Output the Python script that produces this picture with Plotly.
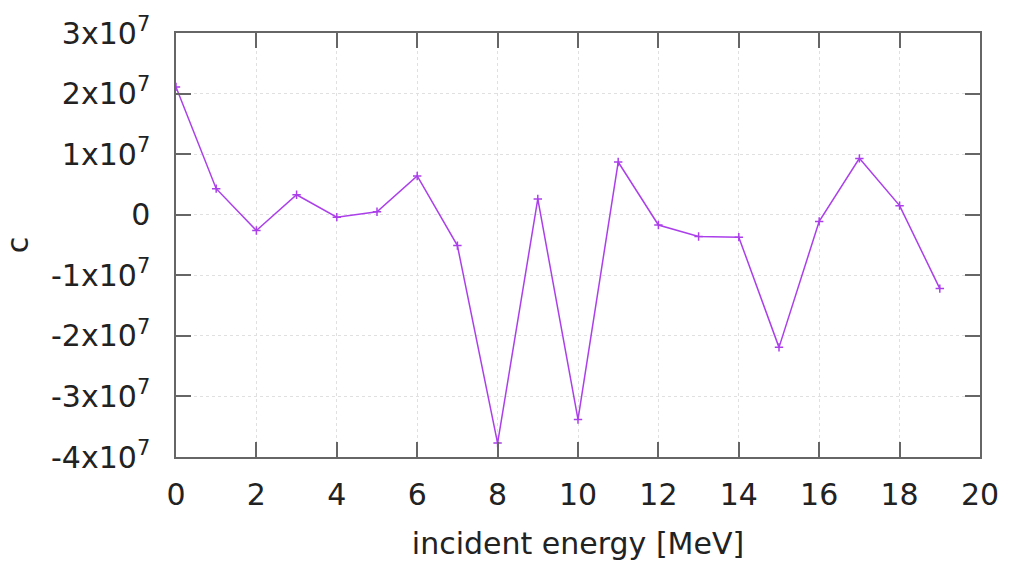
import plotly.graph_objects as go

energy = list(range(20))
c_values = [2.11e7, 0.43e7, -0.26e7, 0.33e7, -0.04e7, 0.05e7, 0.64e7, -0.51e7, -3.77e7, 0.26e7,
            -3.38e7, 0.87e7, -0.17e7, -0.36e7, -0.37e7, -2.19e7, -0.11e7, 0.93e7, 0.15e7, -1.22e7]

x_ticks = [0, 2, 4, 6, 8, 10, 12, 14, 16, 18, 20]
y_ticks = [3e7, 2e7, 1e7, 0, -1e7, -2e7, -3e7, -4e7]
y_ticktext = ["3x10<sup>7</sup>", "2x10<sup>7</sup>", "1x10<sup>7</sup>", "0",
              "-1x10<sup>7</sup>", "-2x10<sup>7</sup>", "-3x10<sup>7</sup>", "-4x10<sup>7</sup>"]

line_color = "#ab40ea"

fig = go.Figure()
fig.add_trace(go.Scatter(
    x=energy, y=c_values, mode="lines+markers",
    line=dict(color=line_color, width=1.5),
    marker=dict(symbol="cross-thin", size=6, line=dict(color=line_color, width=1.5)),
    showlegend=False,
))

font = dict(family="DejaVu Sans", size=30, color="#222222")
axis_common = dict(
    showline=True, linecolor="#666666", linewidth=1.5, mirror="allticks",
    ticks="inside", ticklen=15, tickwidth=1.5, tickcolor="#666666",
    showgrid=True, gridcolor="#e0e0e0", griddash="dot", gridwidth=1,
    zeroline=False, tickfont=font,
)

fig.update_layout(
    width=1011, height=572,
    margin=dict(l=175, r=26, t=25, b=115),
    paper_bgcolor="white", plot_bgcolor="white",
    font=font,
    xaxis=dict(range=[0, 20], tickvals=x_ticks, ticktext=[str(v) for v in x_ticks],
               title=dict(text="incident energy [MeV]", font=font, standoff=22),
               ticklabelstandoff=10, **axis_common),
    yaxis=dict(range=[-4e7, 3e7], tickvals=y_ticks, ticktext=y_ticktext,
               title=dict(text="c", font=font, standoff=18),
               ticklabelstandoff=18, **axis_common),
)

fig.write_html("out.html")
